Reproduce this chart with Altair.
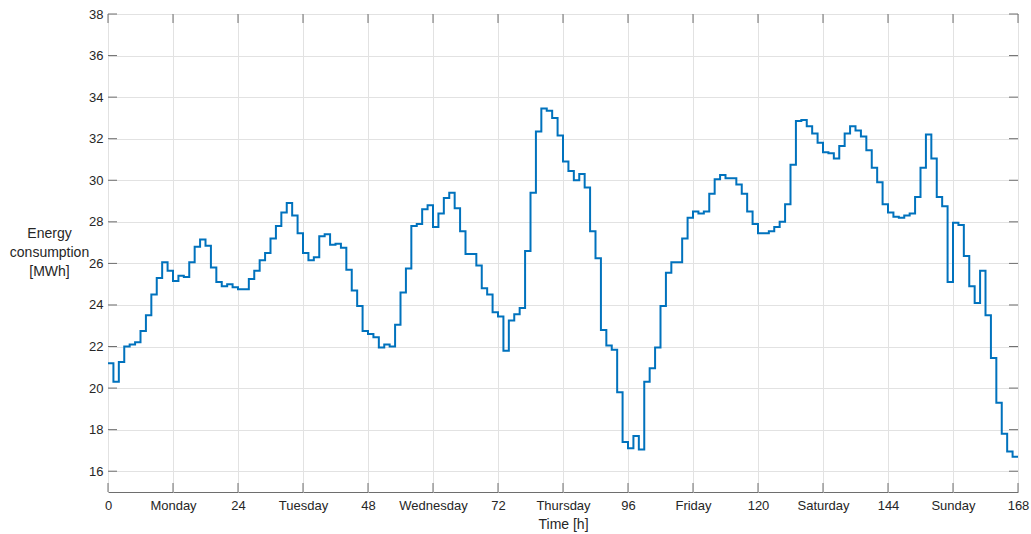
import altair as alt
import pandas as pd

# Hourly energy consumption over one week (MWh), hours 0..167
energy = [
    21.2, 20.3, 21.25, 22.0, 22.1, 22.2, 22.75, 23.5, 24.5, 25.3,
    26.05, 25.65, 25.15, 25.4, 25.35, 26.05, 26.8, 27.15, 26.85, 25.8,
    25.1, 24.9, 25.0, 24.85, 24.75, 24.75, 25.25, 25.65, 26.15, 26.5,
    27.2, 27.8, 28.45, 28.9, 28.3, 27.45, 26.5, 26.15, 26.3, 27.3,
    27.4, 26.9, 26.95, 26.75, 25.7, 24.7, 23.95, 22.75, 22.6, 22.45,
    21.95, 22.1, 22.0, 23.05, 24.6, 25.75, 27.8, 27.9, 28.6, 28.8,
    27.75, 28.4, 29.15, 29.4, 28.65, 27.55, 26.45, 26.45, 25.9, 24.8,
    24.5, 23.65, 23.45, 21.8, 23.25, 23.55, 23.85, 26.6, 29.4, 32.35,
    33.45, 33.35, 33.0, 32.15, 30.9, 30.45, 30.0, 30.3, 29.65, 27.55,
    26.25, 22.8, 22.05, 21.85, 19.8, 17.4, 17.1, 17.7, 17.05, 20.3,
    20.95, 21.95, 23.95, 25.55, 26.05, 26.05, 27.2, 28.2, 28.5, 28.4,
    28.5, 29.35, 30.05, 30.25, 30.1, 30.1, 29.8, 29.35, 28.5, 27.9,
    27.45, 27.45, 27.55, 27.75, 28.0, 28.85, 30.75, 32.85, 32.9, 32.6,
    32.25, 31.8, 31.35, 31.3, 31.05, 31.65, 32.25, 32.6, 32.4, 32.1,
    31.45, 30.6, 29.9, 28.85, 28.45, 28.25, 28.2, 28.3, 28.4, 29.2,
    30.6, 32.2, 31.05, 29.2, 28.75, 25.1, 27.95, 27.85, 26.35, 24.9,
    24.1, 25.65, 23.5, 21.45, 19.3, 17.8, 16.95, 16.7,
]
x_tick_values = list(range(0, 169, 12))
y_tick_values = list(range(16, 39, 2))
day_names = ["Monday", "Tuesday", "Wednesday", "Thursday", "Friday", "Saturday", "Sunday"]

# step line: last step extends to hour 168
hours = list(range(len(energy) + 1))
df = pd.DataFrame({"h": hours, "e": energy + [energy[-1]]})
xt = pd.DataFrame({"h": x_tick_values})
yt = pd.DataFrame({"e": y_tick_values})

FONT = "Liberation Sans"
TXT = "#262626"
GRID = "#e2e2e2"
BOX = "#6e6e6e"

days_js = "[" + ",".join("'%s'" % d for d in day_names) + "]"
label_expr = "datum.value % 24 == 12 ? " + days_js + "[floor(datum.value / 24)] : datum.label"

xscale = alt.Scale(domain=[0, 168], nice=False, zero=False)
yscale = alt.Scale(domain=[15, 38], nice=False, zero=False)

W, H = 910, 478
TL = 9

line = alt.Chart(df).mark_line(
    interpolate="step-after", color="#0072BD", strokeWidth=2
).encode(
    x=alt.X("h:Q", scale=xscale, axis=alt.Axis(
        values=x_tick_values, labelExpr=label_expr, grid=True, gridColor=GRID,
        ticks=False, domain=False, labelPadding=7, labelFlush=False,
        labelOverlap=False, labelFontSize=13, labelColor=TXT, labelFont=FONT,
        title="Time [h]", titleFontSize=14, titleFontWeight="normal",
        titleColor=TXT, titleFont=FONT, titleY=36, titleBaseline="alphabetic",
    )),
    y=alt.Y("e:Q", scale=yscale, axis=alt.Axis(
        values=y_tick_values, grid=True, gridColor=GRID, ticks=False,
        domain=False, labelPadding=5, labelFontSize=13, labelColor=TXT,
        labelFont=FONT,
        title=["Energy", "consumption", "[MWh]"], titleAngle=0,
        titleAlign="center", titleBaseline="middle", titleX=-59, titleY=219,
        titleLineHeight=19, titleFontSize=14, titleFontWeight="normal",
        titleColor=TXT, titleFont=FONT,
    )),
)

tick_bottom = alt.Chart(xt).mark_rule(color=BOX, strokeWidth=1).encode(
    x=alt.X("h:Q", scale=xscale), y=alt.value(H), y2=alt.value(H - TL))
tick_top = alt.Chart(xt).mark_rule(color=BOX, strokeWidth=1).encode(
    x=alt.X("h:Q", scale=xscale), y=alt.value(0), y2=alt.value(TL))
tick_left = alt.Chart(yt).mark_rule(color=BOX, strokeWidth=1).encode(
    y=alt.Y("e:Q", scale=yscale), x=alt.value(0), x2=alt.value(TL))
tick_right = alt.Chart(yt).mark_rule(color=BOX, strokeWidth=1).encode(
    y=alt.Y("e:Q", scale=yscale), x=alt.value(W), x2=alt.value(W - TL))

chart = alt.layer(line, tick_bottom, tick_top, tick_left, tick_right).properties(
    width=W, height=H,
    padding={"left": 108, "top": 14, "right": 13, "bottom": 42},
    autosize=alt.AutoSizeParams(type="none"),
    background="white",
).configure_view(stroke=BOX, strokeWidth=1)

chart.save("out.html", embed_options={"renderer": "svg", "actions": False})
